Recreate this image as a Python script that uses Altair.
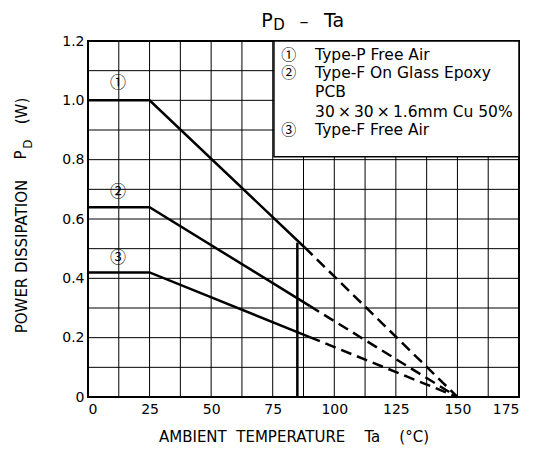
import altair as alt
import pandas as pd

FONT = "DejaVu Sans"
CIRCLE_FONT = "Noto Sans CJK JP"

# ---- data ----
grid_x = [12.5, 25, 37.5, 50, 62.5, 75, 87.5, 100, 112.5, 125, 137.5, 150, 162.5]
grid_y = [0.1, 0.2, 0.3, 0.4, 0.5, 0.6, 0.7, 0.8, 0.9, 1.0, 1.1]
x_ticks = [0, 25, 50, 75, 100, 125, 150, 175]
y_ticks = [0, 0.2, 0.4, 0.6, 0.8, 1.0, 1.2]

curve_ids = ["1", "2", "3"]
solid_ta = [[0, 25, 88], [0, 25, 90], [0, 25, 90]]
solid_pd = [[1.0, 1.0, 0.504], [0.64, 0.64, 0.307], [0.42, 0.42, 0.202]]
dash_ta = [[88, 150], [90, 150], [90, 150]]
dash_pd = [[0.504, 0.0], [0.307, 0.0], [0.202, 0.0]]

limit_ta = [85]
limit_pd = [0.52]

marker_text = ["①", "②", "③"]
marker_ta = [12.2, 12.2, 12.2]
marker_pd = [1.058, 0.69, 0.468]

legend_num = ["①", "②", "", "", "③"]
legend_text = ["Type-P Free Air", "Type-F On Glass Epoxy", "PCB",
               "30\u2009\u00d7\u200930\u2009\u00d7\u20091.6mm Cu 50%", "Type-F Free Air"]
legend_pd = [1.153, 1.092, 1.027, 0.961, 0.900]
legend_num_ta = 81.5
legend_text_ta = 92.2
legend_box = {"ta": 75.5, "ta2": 175, "pd": 0.81, "pd2": 1.2}

# ---- tables ----
solid_df = pd.DataFrame([
    {"curve": c, "ta": t, "pd": p}
    for c, ts, ps in zip(curve_ids, solid_ta, solid_pd) for t, p in zip(ts, ps)
])
dash_df = pd.DataFrame([
    {"curve": c, "ta": t, "pd": p}
    for c, ts, ps in zip(curve_ids, dash_ta, dash_pd) for t, p in zip(ts, ps)
])

xs = alt.Scale(domain=[0, 175], nice=False, zero=False)
ys = alt.Scale(domain=[0, 1.2], nice=False, zero=False)

xaxis = alt.Axis(values=x_ticks, grid=False, ticks=False, domain=False, title=None,
                 labelFont=FONT, labelFontSize=14, labelColor="black", labelPadding=5)
yaxis = alt.Axis(values=y_ticks, grid=False, ticks=False, domain=False, title=None,
                 labelFont=FONT, labelFontSize=14, labelColor="black", labelPadding=4,
                 labelExpr="datum.value == 0 ? '0' : format(datum.value, '.1f')")

X = alt.X("ta:Q", scale=xs, axis=xaxis)
Y = alt.Y("pd:Q", scale=ys, axis=yaxis)

gx = alt.Chart(pd.DataFrame({"ta": grid_x})).mark_rule(color="black", strokeWidth=1).encode(x=X)
gy = alt.Chart(pd.DataFrame({"pd": grid_y})).mark_rule(color="black", strokeWidth=1).encode(y=Y)

box = alt.Chart(pd.DataFrame([legend_box])).mark_rect(
    fill="white", stroke="black", strokeWidth=1.5
).encode(x=X, x2="ta2:Q", y=Y, y2="pd2:Q")

solid = alt.Chart(solid_df).mark_line(color="black", strokeWidth=2.5).encode(
    x=X, y=Y, detail="curve:N")
dashed = alt.Chart(dash_df).mark_line(color="black", strokeWidth=2.5, strokeDash=[11, 6]).encode(
    x=X, y=Y, detail="curve:N")

limit = alt.Chart(pd.DataFrame({"ta": limit_ta, "pd0": [0], "pd": limit_pd})).mark_rule(
    color="black", strokeWidth=2.5).encode(x=X, y=alt.Y("pd0:Q", scale=ys, axis=yaxis), y2="pd:Q")

markers = alt.Chart(pd.DataFrame({"ta": marker_ta, "pd": marker_pd, "t": marker_text})).mark_text(
    font=CIRCLE_FONT, fontSize=16, color="black").encode(x=X, y=Y, text="t:N")

leg_num = alt.Chart(pd.DataFrame({"ta": [legend_num_ta] * 5, "pd": legend_pd, "t": legend_num})).mark_text(
    font=CIRCLE_FONT, fontSize=15, color="black").encode(x=X, y=Y, text="t:N")
leg_txt = alt.Chart(pd.DataFrame({"ta": [legend_text_ta] * 5, "pd": legend_pd, "t": legend_text})).mark_text(
    font=FONT, fontSize=15.5, color="black", align="left").encode(x=X, y=Y, text="t:N")

one = pd.DataFrame({"k": [0]})


def label(text, x, y, size, angle=0):
    return alt.Chart(one).mark_text(
        text=text, font=FONT, fontSize=size, color="black", angle=angle,
        align="center", baseline="middle"
    ).encode(x=alt.value(x), y=alt.value(y))


title_parts = [
    label("P", 179, -20, 19),
    label("D", 191, -16.5, 15),
    label("\u2013", 216, -19.5, 18),
    label("Ta", 246, -20, 19),
]
ytitle_parts = [
    label("POWER DISSIPATION", -66, 215.5, 15, 270),
    label("P", -67, 114, 15, 270),
    label("D", -60, 103, 12, 270),
    label("(W)", -66, 70, 15, 270),
]
xtitle = label("AMBIENT\u00a0\u00a0TEMPERATURE\u00a0\u00a0\u00a0\u00a0Ta\u00a0\u00a0\u00a0\u00a0(\u00b0C)",
               206, 396, 15)

chart = alt.layer(
    gx, gy, box, solid, dashed, limit, markers, leg_num, leg_txt,
    *title_parts, *ytitle_parts, xtitle
).properties(
    width=431, height=356,
    autosize=alt.AutoSizeParams(type="none"),
    padding={"left": 80, "top": 33, "right": 12, "bottom": 50},
).configure_view(stroke="black", strokeWidth=2)

chart.save("out.html", embed_options={"renderer": "svg", "actions": False})
